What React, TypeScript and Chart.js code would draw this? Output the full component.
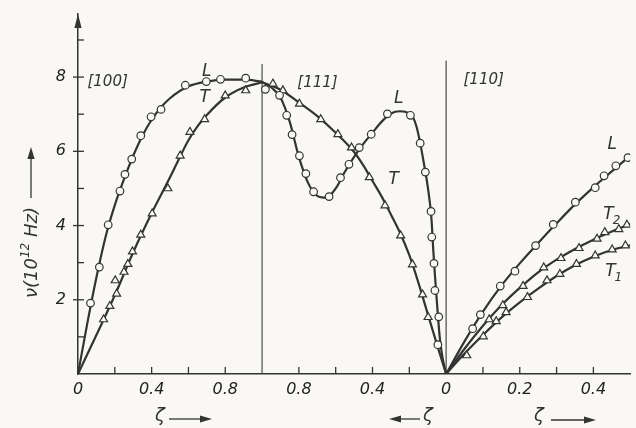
import React, { useEffect, useRef } from 'react';
import { Chart, registerables } from 'chart.js';

Chart.register(...registerables);

type Pt = [number, number];

// ---------- [100] branch (ζ 0 → 1) ----------
const L100_CURVE: Pt[] = [[0, 0], [0.05, 1.35], [0.1, 2.6], [0.15, 3.7], [0.2, 4.55], [0.25, 5.25], [0.3, 5.88], [0.35, 6.42], [0.4, 6.85], [0.45, 7.18], [0.5, 7.43], [0.6, 7.75], [0.7, 7.88], [0.8, 7.93], [0.9, 7.93], [1.0, 7.88]];
const T100_CURVE: Pt[] = [[0, 0], [0.1, 1.05], [0.2, 2.12], [0.3, 3.28], [0.4, 4.33], [0.5, 5.3], [0.6, 6.3], [0.65, 6.68], [0.7, 6.98], [0.8, 7.45], [0.9, 7.72], [1.0, 7.86]];
const L100_POINTS: Pt[] = [[0.068, 1.91], [0.116, 2.88], [0.164, 4.02], [0.228, 4.93], [0.255, 5.38], [0.292, 5.79], [0.341, 6.42], [0.397, 6.93], [0.451, 7.13], [0.583, 7.78], [0.697, 7.88], [0.774, 7.94], [0.911, 7.97]];
const T100_POINTS: Pt[] = [[0.139, 1.47], [0.173, 1.83], [0.21, 2.16], [0.202, 2.52], [0.25, 2.75], [0.271, 2.96], [0.296, 3.3], [0.341, 3.75], [0.403, 4.32], [0.488, 5.0], [0.555, 5.88], [0.608, 6.52], [0.688, 6.86], [0.8, 7.5], [0.911, 7.64]];

// ---------- [111] branch (ζ 1 → 0) ----------
const L111_CURVE: Pt[] = [[0, 0], [0.02, 0.45], [0.035, 1.0], [0.045, 1.6], [0.06, 2.6], [0.07, 3.35], [0.08, 4.2], [0.1, 5.05], [0.12, 5.65], [0.14, 6.2], [0.16, 6.65], [0.18, 6.92], [0.2, 7.02], [0.25, 7.08], [0.3, 7.02], [0.35, 6.8], [0.4, 6.5], [0.45, 6.2], [0.5, 5.85], [0.55, 5.45], [0.6, 5.0], [0.65, 4.75], [0.7, 4.8], [0.75, 5.15], [0.8, 5.85], [0.85, 6.8], [0.9, 7.45], [0.95, 7.72], [1.0, 7.87]];
const T111_CURVE: Pt[] = [[0, 0], [0.05, 0.8], [0.1, 1.62], [0.15, 2.45], [0.2, 3.2], [0.25, 3.8], [0.3, 4.3], [0.35, 4.78], [0.4, 5.2], [0.45, 5.62], [0.5, 5.98], [0.6, 6.5], [0.7, 6.95], [0.8, 7.32], [0.9, 7.66], [1.0, 7.86]];
const L111_POINTS: Pt[] = [[0.982, 7.67], [0.905, 7.51], [0.866, 6.97], [0.837, 6.45], [0.797, 5.88], [0.762, 5.4], [0.72, 4.91], [0.636, 4.78], [0.574, 5.29], [0.528, 5.65], [0.472, 6.1], [0.407, 6.46], [0.319, 7.01], [0.194, 6.97], [0.141, 6.22], [0.113, 5.44], [0.082, 4.38], [0.078, 3.69], [0.066, 2.98], [0.061, 2.25], [0.04, 1.54], [0.045, 0.79]];
const T111_POINTS: Pt[] = [[0.941, 7.82], [0.887, 7.64], [0.797, 7.28], [0.681, 6.86], [0.588, 6.46], [0.514, 6.1], [0.417, 5.3], [0.332, 4.54], [0.247, 3.73], [0.183, 2.95], [0.128, 2.14], [0.098, 1.53]];

// ---------- [110] branch (ζ 0 → 0.5) ----------
const L110_CURVE: Pt[] = [[0, 0], [0.05, 0.88], [0.1, 1.68], [0.15, 2.38], [0.2, 2.98], [0.25, 3.53], [0.3, 4.06], [0.35, 4.57], [0.4, 5.03], [0.45, 5.46], [0.5, 5.88]];
const T2_110_CURVE: Pt[] = [[0, 0], [0.05, 0.68], [0.1, 1.3], [0.15, 1.85], [0.2, 2.32], [0.25, 2.74], [0.3, 3.08], [0.35, 3.37], [0.4, 3.62], [0.45, 3.84], [0.5, 4.04]];
const T1_110_CURVE: Pt[] = [[0, 0], [0.05, 0.55], [0.1, 1.05], [0.15, 1.52], [0.2, 1.93], [0.25, 2.3], [0.3, 2.64], [0.35, 2.93], [0.4, 3.16], [0.45, 3.34], [0.5, 3.47]];
const L110_POINTS: Pt[] = [[0.072, 1.22], [0.093, 1.6], [0.147, 2.37], [0.187, 2.77], [0.243, 3.46], [0.291, 4.03], [0.351, 4.63], [0.405, 5.02], [0.429, 5.34], [0.461, 5.61], [0.494, 5.83]];
const T2_110_POINTS: Pt[] = [[0.117, 1.47], [0.154, 1.85], [0.209, 2.37], [0.265, 2.87], [0.312, 3.12], [0.361, 3.39], [0.41, 3.64], [0.431, 3.82], [0.469, 3.9], [0.491, 4.02]];
const T1_110_POINTS: Pt[] = [[0.056, 0.5], [0.101, 1.01], [0.136, 1.42], [0.163, 1.66], [0.221, 2.07], [0.274, 2.52], [0.309, 2.69], [0.354, 2.96], [0.405, 3.19], [0.451, 3.35], [0.487, 3.46]];

// ---------- ticks ----------
const TICKS_100 = [0, 0.2, 0.4, 0.6, 0.8];
const LABELS_100 = ['0', '', '0.4', '', '0.8'];
const TICKS_111 = [0.8, 0.6, 0.4, 0.2, 0];
const LABELS_111 = ['0.8', '', '0.4', '', '0'];
const TICKS_110 = [0.1, 0.2, 0.3, 0.4];
const LABELS_110 = ['', '0.2', '', '0.4'];
const Y_TICKS = [0, 1, 2, 3, 4, 5, 6, 7, 8, 9];
const Y_LABELS = ['', '', '2', '', '4', '', '6', '', '8', ''];
const Y_MAX = 9.7;
const DIVIDER_TOPS = [8.35, 8.45];

// panel mappings onto one shared axis
const u100 = (z: number) => z;
const u111 = (z: number) => 2 - z;
const u110 = (z: number) => 2 + 2 * z;

const INK = '#333333';
const BG = '#f9f8f4';
const FAM = '"DejaVu Sans", sans-serif';

const X_TICK_LIST = [
  ...TICKS_100.map((z, i) => ({ u: u100(z), label: LABELS_100[i] })),
  ...TICKS_111.map((z, i) => ({ u: u111(z), label: LABELS_111[i] })),
  ...TICKS_110.map((z, i) => ({ u: u110(z), label: LABELS_110[i] })),
].sort((a, b) => a.u - b.u);

const toXY = (pts: Pt[], f: (z: number) => number) =>
  pts.map(([z, v]) => ({ x: f(z), y: v })).sort((a, b) => a.x - b.x);

const curve = (pts: Pt[], f: (z: number) => number) => ({
  data: toXY(pts, f),
  showLine: true,
  pointRadius: 0,
  borderColor: INK,
  borderWidth: 2.2,
  cubicInterpolationMode: 'monotone',
  order: 1,
});

const markers = (pts: Pt[], f: (z: number) => number, style: string) => ({
  data: toXY(pts, f),
  showLine: false,
  pointStyle: style,
  pointRadius: style === 'circle' ? 3.8 : 4.6,
  pointBackgroundColor: BG,
  pointBorderColor: INK,
  pointBorderWidth: 1.2,
  order: 0,
});

const LABELS = [
  { text: '[100]', u: 0.161, v: 7.87, size: 15 },
  { text: '[111]', u: 1.301, v: 7.85, size: 15 },
  { text: '[110]', u: 2.204, v: 7.93, size: 15 },
  { text: 'L', u: 0.699, v: 8.14, size: 17 },
  { text: 'T', u: 0.688, v: 7.44, size: 17 },
  { text: 'L', u: 1.742, v: 7.42, size: 17 },
  { text: 'T', u: 1.715, v: 5.24, size: 17 },
  { text: 'L', u: 2.903, v: 6.18, size: 17 },
  { text: 'T', sub: '2', u: 2.882, v: 4.3, size: 17 },
  { text: 'T', sub: '1', u: 2.892, v: 2.75, size: 17 },
];

function arrow(ctx: any, x1: number, y1: number, x2: number, y2: number) {
  const ang = Math.atan2(y2 - y1, x2 - x1);
  const hl = 12, hw = 3.6;
  const bx = x2 - Math.cos(ang) * hl, by = y2 - Math.sin(ang) * hl;
  ctx.beginPath();
  ctx.moveTo(x1, y1);
  ctx.lineTo(bx, by);
  ctx.stroke();
  ctx.beginPath();
  ctx.moveTo(x2, y2);
  ctx.lineTo(bx + Math.sin(ang) * hw, by - Math.cos(ang) * hw);
  ctx.lineTo(bx - Math.sin(ang) * hw, by + Math.cos(ang) * hw);
  ctx.closePath();
  ctx.fill();
}

const decor = {
  id: 'decor',
  afterDraw(chart: any) {
    const { ctx, chartArea: ca, scales } = chart;
    const xs = scales.x, ys = scales.y;
    ctx.save();
    ctx.strokeStyle = INK;
    ctx.fillStyle = INK;
    ctx.lineWidth = 1.3;
    // inner x ticks
    X_TICK_LIST.forEach((t) => {
      if (t.u < 0.01 || Math.abs(t.u - 2) < 0.01) return;
      const px = xs.getPixelForValue(t.u);
      ctx.beginPath();
      ctx.moveTo(px, ca.bottom);
      ctx.lineTo(px, ca.bottom - 7);
      ctx.stroke();
    });
    // y ticks
    Y_TICKS.forEach((v, i) => {
      if (v === 0) return;
      const py = ys.getPixelForValue(v);
      const major = Y_LABELS[i] !== '';
      ctx.beginPath();
      ctx.moveTo(ca.left - (major ? 5 : 0), py);
      ctx.lineTo(ca.left + 6, py);
      ctx.stroke();
    });
    // y axis arrow head
    ctx.beginPath();
    ctx.moveTo(ca.left, ca.top);
    ctx.lineTo(ca.left - 3.6, ca.top + 14);
    ctx.lineTo(ca.left + 3.6, ca.top + 14);
    ctx.closePath();
    ctx.fill();

    // y title
    ctx.save();
    ctx.translate(37, 298);
    ctx.rotate(-Math.PI / 2);
    ctx.textAlign = 'left';
    ctx.textBaseline = 'alphabetic';
    ctx.font = `italic 18px ${FAM}`;
    ctx.fillText('ν(10', 0, 0);
    let w = ctx.measureText('ν(10').width;
    ctx.font = `italic 12px ${FAM}`;
    ctx.fillText('12', w, -8);
    w += ctx.measureText('12').width;
    ctx.font = `italic 18px ${FAM}`;
    ctx.fillText(' Hz)', w, 0);
    ctx.lineWidth = 1.3;
    arrow(ctx, 100, -6, 151, -6);
    ctx.restore();

    // x captions
    ctx.font = `italic 18px ${FAM}`;
    ctx.textAlign = 'center';
    ctx.textBaseline = 'alphabetic';
    ctx.fillText('ζ', 160, 421);
    arrow(ctx, 169, 419, 212, 419);
    arrow(ctx, 420, 419, 389, 419);
    ctx.fillText('ζ', 428, 421);
    ctx.fillText('ζ', 539, 421);
    arrow(ctx, 551, 420, 596, 420);

    // in-plot labels
    ctx.textBaseline = 'middle';
    LABELS.forEach((l: any) => {
      const px = xs.getPixelForValue(l.u);
      const py = ys.getPixelForValue(l.v);
      ctx.font = `italic ${l.size}px ${FAM}`;
      ctx.textAlign = 'center';
      ctx.fillText(l.text, px, py);
      if (l.sub) {
        const tw = ctx.measureText(l.text).width;
        ctx.font = `italic 12px ${FAM}`;
        ctx.textAlign = 'left';
        ctx.fillText(l.sub, px + tw / 2 - 1, py + 6);
      }
    });
    ctx.restore();
  },
};

export default function App() {
  const ref = useRef<HTMLCanvasElement | null>(null);
  useEffect(() => {
    if (!ref.current) return;
    const dividers = [u100(1), u110(0)].map((u, i) => ({
      data: [{ x: u, y: 0 }, { x: u, y: DIVIDER_TOPS[i] }],
      showLine: true,
      pointRadius: 0,
      borderColor: '#4a4a4a',
      borderWidth: 1.2,
      order: 2,
    }));
    const datasets: any[] = [
      ...dividers,
      curve(L100_CURVE, u100),
      curve(T100_CURVE, u100),
      curve(L111_CURVE, u111),
      curve(T111_CURVE, u111),
      curve(L110_CURVE, u110),
      curve(T2_110_CURVE, u110),
      curve(T1_110_CURVE, u110),
      markers(L100_POINTS, u100, 'circle'),
      markers(T100_POINTS, u100, 'triangle'),
      markers(L111_POINTS, u111, 'circle'),
      markers(T111_POINTS, u111, 'triangle'),
      markers(L110_POINTS, u110, 'circle'),
      markers(T2_110_POINTS, u110, 'triangle'),
      markers(T1_110_POINTS, u110, 'triangle'),
    ];
    const tickFont = { family: FAM, size: 16, style: 'italic' as const };
    const chart = new Chart(ref.current, {
      type: 'scatter',
      data: { datasets },
      options: {
        animation: false,
        responsive: false,
        devicePixelRatio: 1,
        layout: { padding: { left: 8, top: 14, right: 0, bottom: 0 } },
        plugins: { legend: { display: false }, tooltip: { enabled: false } },
        scales: {
          x: {
            type: 'linear',
            min: 0,
            max: 3,
            afterBuildTicks: (s: any) => {
              s.ticks = X_TICK_LIST.map((t) => ({ value: t.u }));
            },
            afterFit: (s: any) => {
              s.height = 54;
              s.paddingLeft = 0;
              s.paddingRight = 0;
            },
            grid: { display: false, drawTicks: false },
            border: { display: true, color: INK, width: 1.5 },
            ticks: {
              autoSkip: false,
              maxRotation: 0,
              padding: 6,
              color: '#222',
              font: tickFont,
              callback: (v: any) => {
                const t = X_TICK_LIST.find((k) => Math.abs(k.u - Number(v)) < 1e-6);
                return t ? t.label : '';
              },
            },
          },
          y: {
            type: 'linear',
            min: 0,
            max: Y_MAX,
            afterBuildTicks: (s: any) => {
              s.ticks = Y_TICKS.map((v) => ({ value: v }));
            },
            afterFit: (s: any) => {
              s.width = 70;
              s.paddingTop = 0;
              s.paddingBottom = 0;
            },
            grid: { display: false, drawTicks: false },
            border: { display: true, color: INK, width: 1.5 },
            ticks: {
              autoSkip: false,
              padding: 12,
              color: '#222',
              font: tickFont,
              callback: (v: any) => {
                const i = Y_TICKS.indexOf(Math.round(Number(v)));
                return i >= 0 ? Y_LABELS[i] : '';
              },
            },
          },
        },
      },
      plugins: [decor],
    } as any);
    return () => chart.destroy();
  }, []);
  return (
    <div style={{ position: 'absolute', left: 0, top: 0, width: 636, height: 428, background: BG }}>
      <canvas ref={ref} width={636} height={428} style={{ display: 'block', width: 636, height: 428 }} />
    </div>
  );
}
